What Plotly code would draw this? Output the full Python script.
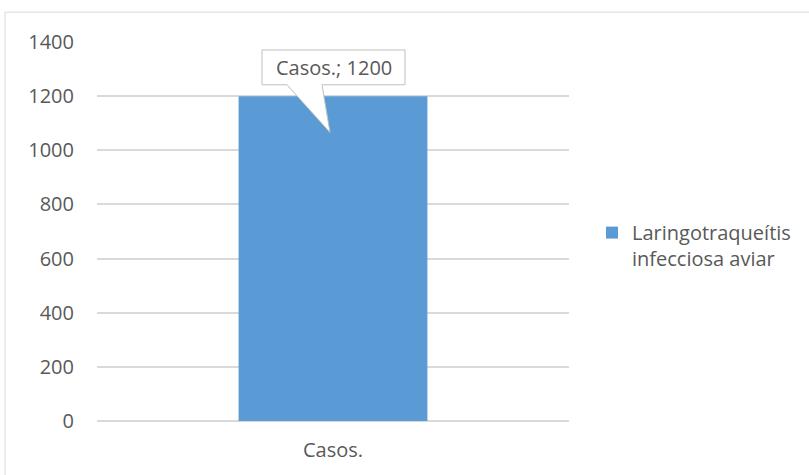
import plotly.graph_objects as go

categories = ["Casos."]
values = [1200]
series_name = "Laringotraqueítis<br>infecciosa aviar"
y_ticks = [0, 200, 400, 600, 800, 1000, 1200, 1400]

W, H = 809, 475
L, R, T, B = 97, 240, 42, 52
pw, ph = W - L - R, H - T - B

def px_x(p):
    return (p - L) / pw

def px_y(p):
    return (H - B - p) / ph

fig = go.Figure()
fig.add_trace(go.Bar(
    x=categories, y=values, name=series_name,
    marker=dict(color="#5b9bd5", line=dict(width=0)),
    width=0.4, showlegend=True,
))

# Callout data label
bx0, bx1 = px_x(262), px_x(405)
byt, byb = px_y(50), px_y(85)
tail_a, tail_b = px_x(287), px_x(322)
tip_x, tip_y = px_x(330), px_y(133)
path = (f"M{bx0},{byb} L{tail_a},{byb} L{tip_x},{tip_y} L{tail_b},{byb} "
        f"L{bx1},{byb} L{bx1},{byt} L{bx0},{byt} Z")
fig.add_shape(type="path", path=path, xref="paper", yref="paper",
              fillcolor="white", line=dict(color="#bfbfbf", width=1), layer="above")
fig.add_annotation(x=(bx0 + bx1) / 2, y=(byt + byb) / 2, xref="paper", yref="paper",
                   text=f"{categories[0]}; {values[0]}", showarrow=False,
                   font=dict(family="Open Sans", size=20, color="#595959"),
                   xanchor="center", yanchor="middle")

# Chart area border
fig.add_shape(type="rect", xref="paper", yref="paper",
              x0=px_x(5), x1=px_x(830), y0=px_y(490), y1=px_y(12),
              line=dict(color="#d9d9d9", width=1), fillcolor="rgba(0,0,0,0)", layer="below")

fig.update_layout(
    width=W, height=H,
    margin=dict(l=L, r=R, t=T, b=B),
    paper_bgcolor="white", plot_bgcolor="white",
    font=dict(family="Open Sans", size=20, color="#595959"),
    bargap=0.6,
    legend=dict(x=px_x(592), y=px_y(214), xanchor="left", yanchor="top",
                valign="top", font=dict(size=20, color="#595959"),
                bgcolor="rgba(0,0,0,0)", tracegroupgap=0),
)
fig.update_xaxes(showgrid=False, showline=False, ticks="", tickfont=dict(size=20),
                 ticklabelstandoff=15)
fig.update_yaxes(range=[0, 1400], tickvals=y_ticks, showgrid=True,
                 gridcolor="#d9d9d9", gridwidth=1.5, zeroline=True,
                 zerolinecolor="#d9d9d9", zerolinewidth=1.5, showline=False,
                 ticks="", ticklabelstandoff=22, tickfont=dict(size=20))

fig.write_html("out.html")
